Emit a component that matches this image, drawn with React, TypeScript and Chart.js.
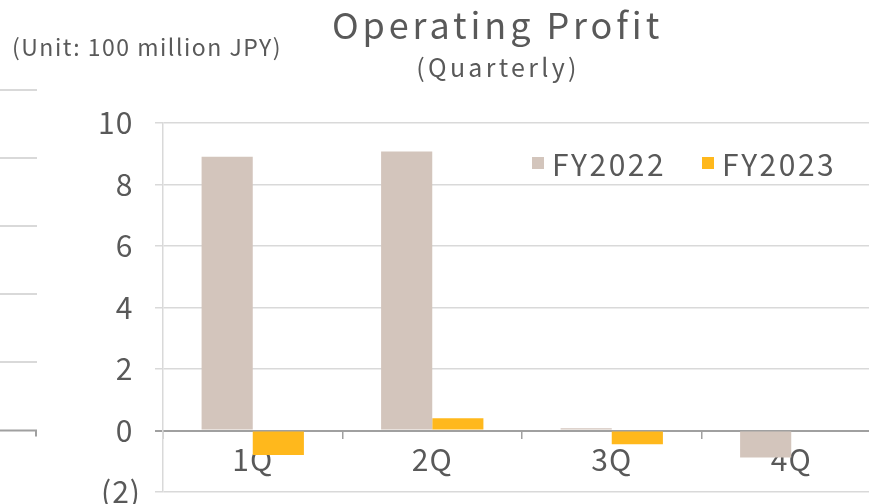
import React, { useEffect, useRef } from "react";
import { Chart, registerables } from "chart.js";

Chart.register(...registerables);

const categories = ["1Q", "2Q", "3Q", "4Q"];
const seriesNames = ["FY2022", "FY2023"];
const fy2022 = [8.9, 9.07, 0.07, -0.88];
const fy2023: (number | null)[] = [-0.8, 0.4, -0.45, null];
const seriesColors = ["#D3C5BC", "#FFB81C"];
const yTickValues = [-2, 0, 2, 4, 6, 8, 10];
const titleText = "Operating Profit";
const subtitleText = "(Quarterly)";
const unitText = "(Unit: 100 million JPY)";

const FONT = '"Noto Sans CJK JP", "Noto Sans", sans-serif';
const TEXT = "#595959";
const GRID = "#D9D9D9";
const AXIS = "#A0A0A0";

const neighborStubs = {
  id: "neighborStubs",
  beforeDraw(chart: any) {
    const { ctx } = chart;
    const y0 = chart.scales.y.getPixelForValue(0);
    ctx.save();
    ctx.lineWidth = 2;
    ctx.strokeStyle = GRID;
    for (let i = 1; i <= 5; i++) {
      const y = Math.round(y0 - i * 68.2);
      ctx.beginPath();
      ctx.moveTo(0, y);
      ctx.lineTo(37, y);
      ctx.stroke();
    }
    ctx.strokeStyle = AXIS;
    ctx.beginPath();
    ctx.moveTo(0, y0);
    ctx.lineTo(37, y0);
    ctx.moveTo(36, y0);
    ctx.lineTo(36, y0 + 6);
    ctx.stroke();
    ctx.restore();
    ctx.letterSpacing = "1px";
  },
};

export default function App() {
  const canvasRef = useRef<HTMLCanvasElement | null>(null);

  useEffect(() => {
    const canvas = canvasRef.current;
    if (!canvas) return;
    const chart = new Chart(canvas, {
      type: "bar",
      data: {
        labels: categories,
        datasets: [
          { label: seriesNames[0], data: fy2022, backgroundColor: seriesColors[0] },
          { label: seriesNames[1], data: fy2023, backgroundColor: seriesColors[1] },
        ],
      },
      options: {
        animation: false,
        responsive: false,
        maintainAspectRatio: false,
        layout: { padding: { top: 123, left: 0, right: 19, bottom: 38 } },
        datasets: { bar: { categoryPercentage: 0.57, barPercentage: 1 } },
        plugins: {
          legend: { display: false },
          title: { display: false },
          tooltip: { enabled: false },
        },
        scales: {
          x: {
            position: { y: 0 } as any,
            z: 1,
            offset: true,
            grid: {
              offset: true,
              drawOnChartArea: false,
              drawTicks: true,
              tickLength: 7,
              color: AXIS,
              lineWidth: 1.5,
            },
            border: { display: true, color: AXIS, width: 2 },
            ticks: { font: { family: FONT, size: 30 }, color: TEXT, padding: 4 },
          },
          y: {
            min: -2,
            max: 10,
            afterBuildTicks: (scale: any) => {
              scale.ticks = yTickValues.map((v) => ({ value: v }));
            },
            afterFit: (scale: any) => {
              scale.width = 163;
            },
            grid: {
              color: (c: any) => (c.tick && c.tick.value === 0 ? AXIS : GRID),
              lineWidth: (c: any) => (c.tick && c.tick.value === 0 ? 2 : 1.5),
              tickLength: 8,
            },
            border: { display: true, color: GRID, width: 1.5 },
            ticks: {
              font: { family: FONT, size: 30 },
              color: TEXT,
              padding: 14,
              callback: (v: any) => (Number(v) < 0 ? `(${-Number(v)})` : `${v} `),
            },
          },
        },
      },
      plugins: [neighborStubs],
    });
    return () => chart.destroy();
  }, []);

  const textBase: React.CSSProperties = {
    position: "absolute",
    fontFamily: FONT,
    color: TEXT,
    whiteSpace: "nowrap",
    lineHeight: 1,
  };

  return (
    <div
      style={{
        position: "fixed",
        left: 0,
        top: 0,
        width: 869,
        height: 504,
        overflow: "hidden",
        background: "#fff",
      }}
    >
      <canvas ref={canvasRef} width={900} height={530} style={{ position: "absolute", left: 0, top: 0 }} />
      <div style={{ ...textBase, left: 497.5, top: 5, transform: "translateX(-50%)", fontSize: 36, letterSpacing: 3.9 }}>
        {titleText}
      </div>
      <div style={{ ...textBase, left: 498, top: 54, transform: "translateX(-50%)", fontSize: 25, letterSpacing: 3.3 }}>
        {subtitleText}
      </div>
      <div style={{ ...textBase, left: 12, top: 35, fontSize: 23, letterSpacing: 1.5 }}>{unitText}</div>
      <div style={{ ...textBase, left: 532, top: 148, display: "flex", alignItems: "center", fontSize: 30, letterSpacing: 2.5 }}>
        {seriesNames.map((name, i) => (
          <div key={name} style={{ display: "flex", alignItems: "center", marginRight: i === 0 ? 36 : 0 }}>
            <span style={{ display: "inline-block", width: 12, height: 12, background: seriesColors[i], marginRight: 8 }} />
            <span>{name}</span>
          </div>
        ))}
      </div>
    </div>
  );
}
